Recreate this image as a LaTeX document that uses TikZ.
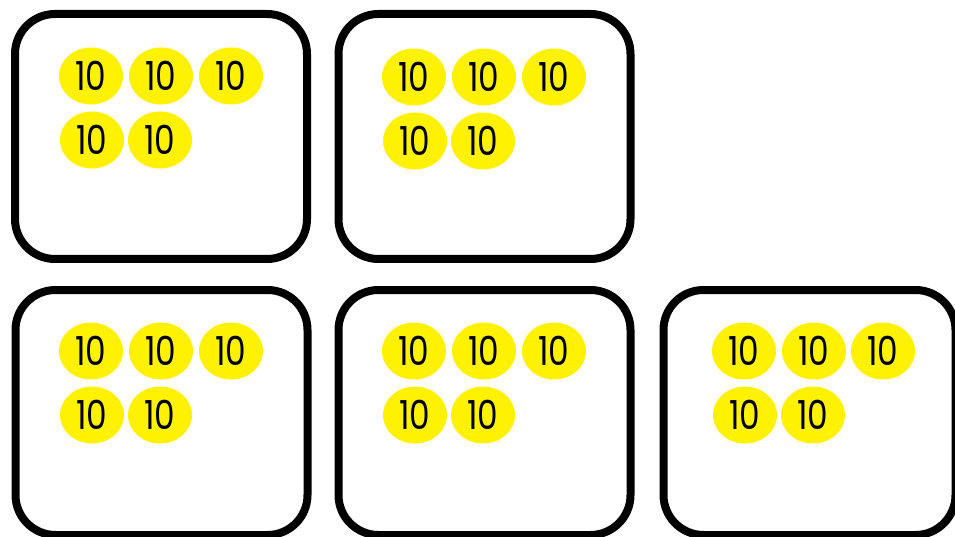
\documentclass[tikz,border=0pt]{standalone}
\usepackage{fontspec}
\setmainfont{Poppins}[FakeStretch=0.82]
\usetikzlibrary{shapes.geometric}
\tikzset{
  box/.style={draw=black, line width=8pt, rounded corners=40pt, minimum width=292pt, minimum height=245pt, inner sep=0pt, fill=white},
  coin/.style={ellipse, fill=yellow, minimum width=64pt, minimum height=57pt, inner sep=0pt, font=\fontsize{40}{40}\selectfont, text=black}
}
\begin{document}
\begin{tikzpicture}[x=1pt,y=-1pt]
\useasboundingbox (0,0) rectangle (955,537);
\fill[white] (0,0) rectangle (955,537);
\node[box] (b1) at (161,136.5) {};
\node[box] (b2) at (484.5,136.5) {};
\node[box] (b3) at (161.5,412.5) {};
\node[box] (b4) at (484.5,412.5) {};
\node[box] (b5) at (809.5,412.5) {};
% box 1
\node[coin] (a1) at (91,76) {10};
\node[coin] (a2) at (161,76) {10};
\node[coin] (a3) at (231,76) {10};
\node[coin] (a4) at (92,140) {10};
\node[coin] (a5) at (160,140) {10};
% box 2
\node[coin] (d1) at (414,77) {10};
\node[coin] (d2) at (484,77) {10};
\node[coin] (d3) at (554,77) {10};
\node[coin] (d4) at (415,141) {10};
\node[coin] (d5) at (483,141) {10};
% box 3
\node[coin] (e1) at (91,351) {10};
\node[coin] (e2) at (161,351) {10};
\node[coin] (e3) at (231,351) {10};
\node[coin] (e4) at (92,415) {10};
\node[coin] (e5) at (160,415) {10};
% box 4
\node[coin] (f1) at (414,351) {10};
\node[coin] (f2) at (484,351) {10};
\node[coin] (f3) at (554,351) {10};
\node[coin] (f4) at (415,415) {10};
\node[coin] (f5) at (483,415) {10};
% box 5
\node[coin] (g1) at (744,351) {10};
\node[coin] (g2) at (814,351) {10};
\node[coin] (g3) at (883,351) {10};
\node[coin] (g4) at (745,415) {10};
\node[coin] (g5) at (813,415) {10};
\end{tikzpicture}
\end{document}
